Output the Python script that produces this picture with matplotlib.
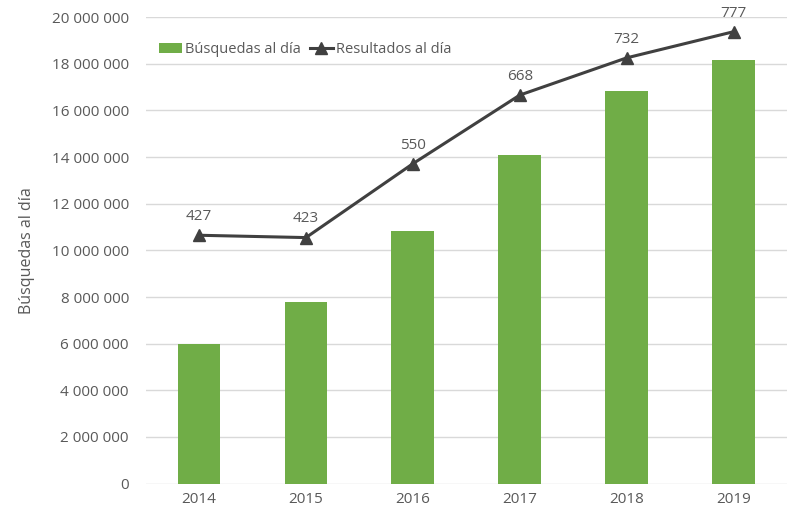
import matplotlib
matplotlib.use("Agg")
import matplotlib.pyplot as plt
from matplotlib.ticker import FuncFormatter

years = ["2014", "2015", "2016", "2017", "2018", "2019"]
busquedas = [5970000, 7780000, 10830000, 14080000, 16840000, 18170000]
resultados = [427, 423, 550, 668, 732, 777]

plt.rcParams["font.family"] = ["Open Sans", "DejaVu Sans"]
text_color = "#595959"

fig = plt.figure(figsize=(7.87, 5.2), dpi=100)
ax = fig.add_axes([0.185, 0.07, 0.815, 0.897])
x = range(len(years))

ax.bar(x, busquedas, width=0.4, color="#70AD47", label="Búsquedas al día", zorder=2)
ax.set_ylim(0, 20000000)
ax.set_yticks(range(0, 20000001, 2000000))
ax.yaxis.set_major_formatter(FuncFormatter(lambda v, p: f"{int(v):,}".replace(",", " ")))
ax.set_xlim(-0.5, len(years) - 0.5)
ax.set_xticks(list(x))
ax.set_xticklabels(years)
ax.grid(axis="y", color="#d9d9d9", linewidth=1, zorder=0)
for s in ax.spines.values():
    s.set_visible(False)
ax.tick_params(axis="y", length=0, colors=text_color, labelsize=11, pad=12)
ax.tick_params(axis="x", length=0, colors=text_color, labelsize=11, pad=6)
ax.set_ylabel("Búsquedas al día", color=text_color, fontsize=11.5, labelpad=12)

ax2 = ax.twinx()
ax2.set_ylim(0, 802)
line, = ax2.plot(x, resultados, color="#404040", linewidth=2.2, marker="^",
                 markersize=9, label="Resultados al día", zorder=3)
for xi, v in zip(x, resultados):
    ax2.annotate(str(v), (xi, v), textcoords="offset points", xytext=(0, 8),
                 ha="center", va="bottom", color=text_color, fontsize=11)
ax2.set_yticks([])
for s in ax2.spines.values():
    s.set_visible(False)

h1, l1 = ax.get_legend_handles_labels()
h2, l2 = ax2.get_legend_handles_labels()
leg = ax2.legend(h1 + h2, l1 + l2, loc="upper left", bbox_to_anchor=(0.0, 0.975),
                 frameon=False, ncol=2, fontsize=10.5, handlelength=1.6,
                 handletextpad=0.2, columnspacing=0.6, labelcolor=text_color)

fig.savefig("out.png", dpi=100)
